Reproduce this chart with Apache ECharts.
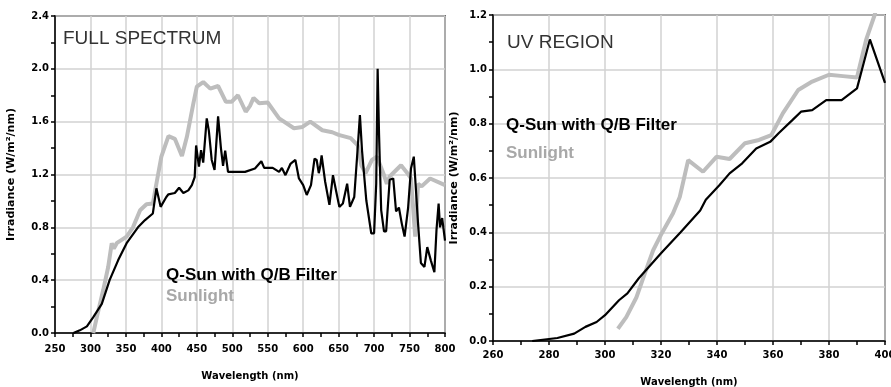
<!DOCTYPE html>
<html>
<head>
<meta charset="utf-8">
<script src="https://cdn.jsdelivr.net/npm/echarts@6/dist/echarts.min.js"></script>
<style>
  html, body { margin: 0; padding: 0; background: #fff; }
  #chart { width: 891px; height: 387px; }
</style>
</head>
<body>
<div id="chart"></div>
<script>
var seriesNames = ['Q-Sun with Q/B Filter', 'Sunlight'];
var panelTitles = ['FULL SPECTRUM', 'UV REGION'];
var xName = 'Wavelength (nm)';
var yName = 'Irradiance (W/m²/nm)';

// full spectrum, [wavelength nm, irradiance]
var fullQSun = [[276,0],[285,0.02],[295,0.05],[304,0.12],[316,0.22],[327,0.40],[339,0.55],[351,0.68],[367,0.80],
  [377,0.855],[388,0.905],[393,1.095],[399,0.955],[407,1.03],[410,1.05],[419,1.06],[425,1.10],[431,1.06],[438,1.08],
  [443,1.12],[447,1.18],[449,1.42],[453,1.26],[456,1.385],[459,1.29],[464,1.625],[467,1.53],[471,1.31],[475,1.235],
  [480,1.64],[484,1.40],[487,1.265],[490,1.38],[494,1.22],[504,1.22],[518,1.22],[532,1.245],[541,1.30],[545,1.25],
  [557,1.25],[566,1.22],[570,1.25],[575,1.195],[582,1.28],[589,1.31],[594,1.17],[600,1.12],[605,1.045],[611,1.12],
  [616,1.32],[619,1.31],[622,1.21],[624,1.26],[626,1.345],[631,1.145],[637,0.97],[642,1.195],[647,1.06],[651,0.955],
  [656,0.98],[662,1.13],[666,0.955],[672,1.03],[677,1.41],[680,1.65],[683,1.38],[689,1.005],[696,0.755],[700,0.755],
  [703,1.13],[705,2.0],[707,1.5],[710,0.93],[714,0.77],[717,0.77],[722,1.16],[727,1.17],[731,0.92],[735,0.95],
  [739,0.83],[743,0.73],[748,0.95],[752,1.245],[756,1.335],[758,1.17],[762,0.83],[766,0.53],[771,0.50],[775,0.65],
  [780,0.55],[785,0.46],[788,0.78],[791,0.98],[793,0.80],[796,0.87],[800,0.70]];
var fullSun = [[304,0],[309,0.12],[318,0.325],[325,0.50],[330,0.68],[333,0.64],[337,0.68],[351,0.73],[360,0.80],
  [370,0.93],[379,0.975],[388,0.98],[393,1.13],[400,1.335],[410,1.49],[419,1.47],[429,1.34],[436,1.485],[445,1.735],
  [450,1.865],[459,1.90],[469,1.85],[480,1.87],[491,1.75],[499,1.75],[508,1.80],[519,1.675],[525,1.72],[530,1.78],
  [538,1.74],[550,1.745],[566,1.625],[587,1.55],[599,1.56],[610,1.60],[627,1.535],[641,1.52],[650,1.50],[667,1.475],
  [677,1.42],[682,1.27],[688,1.21],[697,1.31],[704,1.335],[713,1.21],[718,1.13],[722,1.185],[738,1.27],[747,1.21],
  [752,1.17],[758,0.73],[762,1.13],[767,1.11],[779,1.17],[800,1.12]];

// UV region
var uvQSun = [[274,0],[283,0.011],[289,0.027],[293,0.052],[297,0.07],[300,0.095],[305,0.15],[308,0.175],[312,0.23],
  [320,0.323],[327,0.40],[334,0.48],[336,0.52],[341,0.575],[344.5,0.617],[349,0.654],[354,0.709],[359,0.733],
  [362,0.765],[367,0.814],[370,0.844],[374,0.85],[379,0.887],[384.5,0.887],[390,0.93],[394.6,1.11],[400,0.95]];
var uvSun = [[304.6,0.045],[307.6,0.088],[311.2,0.16],[314.2,0.248],[317.2,0.334],[320.2,0.395],[324.3,0.47],
  [326.7,0.53],[329.7,0.666],[335,0.623],[339.8,0.678],[344.5,0.67],[350,0.728],[355,0.74],[359.4,0.758],
  [363.5,0.838],[369,0.924],[374,0.955],[380,0.98],[385,0.975],[390,0.97],[393.3,1.11],[396.3,1.2],[398,1.28]];

var lblFont = 'DejaVu Sans';
var qColor = '#000';
var sColor = '#bdbdbd';

function xAxisOf(idx, min, max, step, margin, gap) {
    return {
        type: 'value', gridIndex: idx, min: min, max: max, interval: step,
        name: xName, nameLocation: 'middle', nameGap: gap,
        nameTextStyle: { fontFamily: lblFont, fontWeight: 'bold', fontSize: 10, color: '#000' },
        axisLine: { show: true, onZero: false, lineStyle: { color: '#000', width: 1.5 } },
        axisTick: { show: true, length: 4, lineStyle: { color: '#000', width: 1.5 } },
        minorTick: { show: true, splitNumber: 2, length: 4, lineStyle: { color: '#000', width: 1.5 } },
        axisLabel: { margin: margin, fontFamily: lblFont, fontWeight: 'bold', fontSize: 10, color: '#000',
            showMinLabel: true, showMaxLabel: true },
        splitLine: { show: true, lineStyle: { color: '#d2d2d2', width: 1.5 } }
    };
}
function yAxisOf(idx, max, step, gap) {
    return {
        type: 'value', gridIndex: idx, min: 0, max: max, interval: step,
        name: yName, nameLocation: 'middle', nameGap: gap, nameRotate: 90,
        nameTextStyle: { fontFamily: lblFont, fontWeight: 'bold', fontSize: 11, color: '#000' },
        axisLine: { show: true, lineStyle: { color: '#000', width: 1.5 } },
        axisTick: { show: true, length: 4, lineStyle: { color: '#000', width: 1.5 } },
        minorTick: { show: true, splitNumber: 2, length: 4, lineStyle: { color: '#000', width: 1.5 } },
        axisLabel: { margin: 6, fontFamily: lblFont, fontWeight: 'bold', fontSize: 10, color: '#000',
            formatter: function (v) { return v.toFixed(1); } },
        splitLine: { show: true, lineStyle: { color: '#d2d2d2', width: 1.5 } }
    };
}
function lineOf(name, idx, data, color, width, z) {
    return {
        name: name, type: 'line', xAxisIndex: idx, yAxisIndex: idx, data: data,
        showSymbol: false, clip: true, z: z, animation: false,
        lineStyle: { color: color, width: width }, itemStyle: { color: color }
    };
}
function txt(x, y, s, size, color, weight, family) {
    return { type: 'text', left: x, top: y, z: 100,
        style: { text: s, fill: color, font: weight + ' ' + size + 'px ' + family } };
}

var myChart = echarts.init(document.getElementById('chart'));
var option = {
    backgroundColor: '#fff',
    animation: false,
    grid: [
        { left: 55, top: 16, width: 390, height: 317, show: true, borderColor: '#000', borderWidth: 1.5, outerBoundsMode: 'none' },
        { left: 493, top: 15, width: 392, height: 326, show: true, borderColor: '#000', borderWidth: 1.5, outerBoundsMode: 'none' }
    ],
    xAxis: [ xAxisOf(0, 250, 800, 50, 11, 38), xAxisOf(1, 260, 400, 20, 9, 36) ],
    yAxis: [ yAxisOf(0, 2.4, 0.4, 38), yAxisOf(1, 1.2, 0.2, 33) ],
    series: [
        lineOf(seriesNames[1], 0, fullSun, sColor, 4, 2),
        lineOf(seriesNames[0], 0, fullQSun, qColor, 2.2, 3),
        lineOf(seriesNames[1], 1, uvSun, sColor, 4, 2),
        lineOf(seriesNames[0], 1, uvQSun, qColor, 2.2, 3)
    ],
    graphic: [
        txt(63, 29, panelTitles[0], 19, '#333', 'normal', 'Liberation Sans'),
        txt(507, 33, panelTitles[1], 19, '#333', 'normal', 'Liberation Sans'),
        txt(166, 267, seriesNames[0], 17, qColor, 'bold', 'Liberation Sans'),
        txt(166, 288, seriesNames[1], 17, '#a8a8a8', 'bold', 'Liberation Sans'),
        txt(506, 117, seriesNames[0], 17, qColor, 'bold', 'Liberation Sans'),
        txt(506, 145, seriesNames[1], 17, '#a8a8a8', 'bold', 'Liberation Sans')
    ]
};
myChart.setOption(option);
</script>
</body>
</html>
